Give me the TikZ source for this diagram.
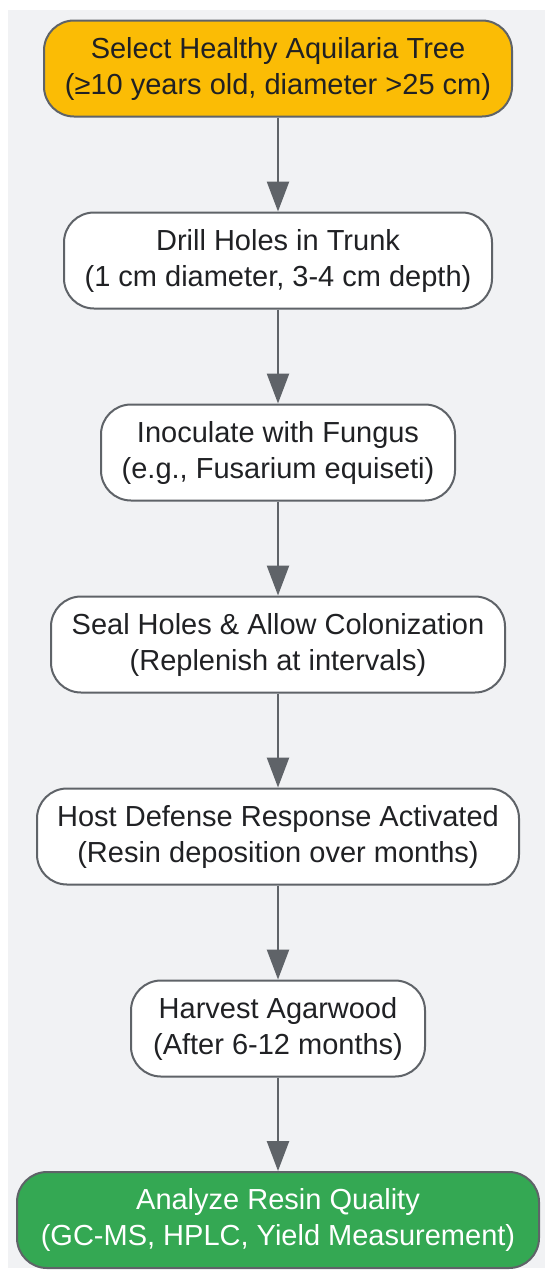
\documentclass[tikz,border=0pt]{standalone}
\usepackage{fontspec}
\setmainfont{Liberation Sans}
\usetikzlibrary{arrows.meta}
\definecolor{bgc}{HTML}{F1F2F4}
\definecolor{edgec}{HTML}{5F6368}
\definecolor{txtc}{HTML}{202124}
\definecolor{orangec}{HTML}{FBBC05}
\definecolor{greenc}{HTML}{34A853}
\tikzset{
  stepbox/.style={draw=edgec, line width=2pt, rounded corners=30pt, fill=white,
    minimum height=96pt, align=center, text=txtc, inner sep=0pt,
    font=\fontsize{29pt}{36pt}\selectfont},
  flow/.style={draw=edgec, line width=2.5pt, -{Triangle[width=22pt,length=30pt]}, shorten >=0pt}
}
\begin{document}
\begin{tikzpicture}[x=1pt,y=1pt]
\useasboundingbox (0,0) rectangle (545,-1272);
\fill[bgc] (8,-10) rectangle (545,-1268);
\node[stepbox, fill=orangec, minimum width=468pt] (n1) at (278,-68.5) {Select Healthy Aquilaria Tree\\(≥10 years old, diameter >25 cm)};
\node[stepbox, minimum width=428pt] (n2) at (278,-260.5) {Drill Holes in Trunk\\(1 cm diameter, 3-4 cm depth)};
\node[stepbox, minimum width=354pt] (n3) at (278,-452.5) {Inoculate with Fungus\\(e.g., Fusarium equiseti)};
\node[stepbox, minimum width=454pt] (n4) at (278,-644.5) {Seal Holes \& Allow Colonization\\(Replenish at intervals)};
\node[stepbox, minimum width=482pt] (n5) at (278,-836.5) {Host Defense Response Activated\\(Resin deposition over months)};
\node[stepbox, minimum width=294pt] (n6) at (278,-1028.5) {Harvest Agarwood\\(After 6-12 months)};
\node[stepbox, fill=greenc, text=white, minimum width=522pt] (n7) at (278,-1220) {Analyze Resin Quality\\(GC-MS, HPLC, Yield Measurement)};
\draw[flow] (n1) -- (n2);
\draw[flow] (n2) -- (n3);
\draw[flow] (n3) -- (n4);
\draw[flow] (n4) -- (n5);
\draw[flow] (n5) -- (n6);
\draw[flow] (n6) -- (n7);
\end{tikzpicture}
\end{document}
